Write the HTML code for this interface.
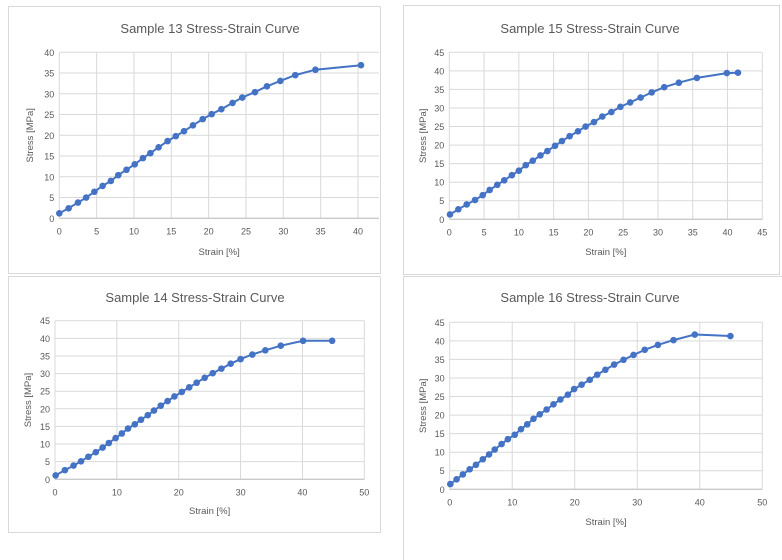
<!DOCTYPE html>
<html><head><meta charset="utf-8"><style>
body{margin:0;background:#fff;width:782px;height:560px;overflow:hidden}
svg{position:absolute;left:0;top:0}
text{font-family:"Liberation Sans",sans-serif;fill:#595959}
</style></head><body>
<svg id="s" width="782" height="560"></svg>
<script>
const categoriesS13X=[0,1.25,2.5,3.6,4.7,5.8,6.9,7.9,9.0,10.1,11.2,12.2,13.3,14.5,15.6,16.7,17.9,19.2,20.4,21.7,23.2,24.5,26.2,27.8,29.6,31.6,34.3,40.4];
const valuesS13Y=[1.2,2.4,3.8,5.0,6.4,7.8,9.0,10.4,11.7,13.0,14.5,15.7,17.1,18.6,19.8,21.0,22.4,23.9,25.1,26.3,27.8,29.1,30.4,31.8,33.1,34.5,35.8,36.9];
const categoriesS15X=[0.1,1.3,2.5,3.7,4.8,5.8,6.9,7.9,9.0,10.0,11.0,12.0,13.1,14.1,15.2,16.2,17.3,18.5,19.6,20.8,22.0,23.3,24.6,26.0,27.5,29.1,30.9,33.0,35.6,39.9,41.5];
const valuesS15Y=[1.3,2.7,4.0,5.2,6.5,7.9,9.3,10.5,11.9,13.1,14.6,15.8,17.2,18.4,19.8,21.1,22.4,23.7,25.0,26.2,27.7,28.9,30.3,31.5,32.8,34.2,35.6,36.8,38.1,39.4,39.5];
const categoriesS14X=[0.1,1.6,3.0,4.2,5.4,6.6,7.7,8.7,9.8,10.8,11.8,12.9,13.9,15.0,16.0,17.1,18.2,19.3,20.5,21.7,22.9,24.2,25.5,26.9,28.4,30.0,31.9,34.0,36.5,40.1,44.8];
const valuesS14Y=[1.1,2.6,3.9,5.1,6.4,7.7,9.0,10.3,11.7,13.0,14.4,15.6,16.9,18.2,19.5,20.9,22.2,23.5,24.8,26.1,27.4,28.8,30.1,31.4,32.8,34.1,35.4,36.6,37.9,39.3,39.3];
const categoriesS16X=[0.1,1.1,2.1,3.2,4.2,5.3,6.3,7.2,8.3,9.3,10.4,11.4,12.4,13.4,14.4,15.5,16.6,17.7,18.9,19.9,21.1,22.4,23.6,24.9,26.3,27.8,29.4,31.2,33.3,35.8,39.2,44.9];
const valuesS16Y=[1.4,2.7,4.0,5.4,6.6,8.1,9.4,10.7,12.2,13.5,14.7,16.2,17.5,19.0,20.2,21.5,22.9,24.2,25.5,27.0,28.2,29.5,30.9,32.2,33.6,34.9,36.2,37.6,38.9,40.2,41.7,41.3];
const ticksX13=[0,5,10,15,20,25,30,35,40];
const ticksY13=[0,5,10,15,20,25,30,35,40];
const ticksX15=[0,5,10,15,20,25,30,35,40,45];
const ticksY45=[0,5,10,15,20,25,30,35,40,45];
const ticksX50=[0,10,20,30,40,50];

const NS='http://www.w3.org/2000/svg';
const svg=document.getElementById('s');
function mk(tag,attrs,parent,txt){const e=document.createElementNS(NS,tag);for(const k in attrs)e.setAttribute(k,attrs[k]);if(txt!==undefined)e.textContent=txt;(parent||svg).appendChild(e);return e;}

function chart(cfg){
  const g=mk('g',{});
  
  
  const p=mk('rect',{x:cfg.box[0]+0.5,y:cfg.box[1]+0.5,width:cfg.box[2],height:cfg.box[3],fill:'#fff',stroke:'#d9d9d9'},g);
  
  
  const sx=v=>cfg.x0+(v-cfg.xmin)/(cfg.xmax-cfg.xmin)*(cfg.x1-cfg.x0);
  const sy=v=>cfg.y0-(v-cfg.ymin)/(cfg.ymax-cfg.ymin)*(cfg.y0-cfg.y1);
  cfg.ty.forEach(t=>{
    const l=mk('line',{x1:cfg.x0,x2:cfg.right,y1:sy(t),y2:sy(t),stroke:'#d9d9d9','stroke-width':1},g);
    
    
    const tx=mk('text',{x:cfg.x0-5,y:sy(t)+3.5,'font-size':9,'text-anchor':'end'},g,t);
    
    
  });
  cfg.tx.forEach(t=>{
    const l=mk('line',{x1:sx(t),x2:sx(t),y1:sy(cfg.ty[cfg.ty.length-1]),y2:cfg.y0,stroke:'#d9d9d9','stroke-width':1},g);
    
    
    const tx=mk('text',{x:sx(t),y:cfg.y0+16,'font-size':9,'text-anchor':'middle'},g,t);
    
    
  });
  const ax=mk('line',{x1:cfg.x0,x2:cfg.right,y1:cfg.y0,y2:cfg.y0,stroke:'#bfbfbf','stroke-width':1},g);
  
  
  const ti=mk('text',{x:cfg.tpos[0],y:cfg.tpos[1],'font-size':13,'text-anchor':'middle'},g,cfg.title);
  
  
  const xt=mk('text',{x:(cfg.x0+cfg.right)/2,y:cfg.xtY,'font-size':9.5,'text-anchor':'middle'},g,'Strain [%]');
  
  
  const cy=(cfg.y0+sy(cfg.ty[cfg.ty.length-1]))/2;
  const yt=mk('text',{x:cfg.ytX,y:cy,'font-size':9.5,'text-anchor':'middle',transform:`rotate(-90 ${cfg.ytX} ${cy})`},g,'Stress [MPa]');
  
  
  const pts=cfg.xs.map((x,i)=>sx(x).toFixed(1)+','+sy(cfg.ys[i]).toFixed(1)).join(' ');
  const pl=mk('polyline',{points:pts,fill:'none',stroke:'#4472c4','stroke-width':2},g);
  
  
  cfg.xs.forEach((x,i)=>{
    const c=mk('circle',{cx:sx(x),cy:sy(cfg.ys[i]),r:3.3,fill:'#4472c4'},g);
    
    
  });
}
chart({name:'sample-13-chart',box:[8,6,372,267],x0:59.3,x1:358,xmin:0,xmax:40,right:379,y0:218.3,y1:52.3,ymin:0,ymax:40,tx:ticksX13,ty:ticksY13,xs:categoriesS13X,ys:valuesS13Y,title:'Sample 13 Stress-Strain Curve',tpos:[210,33],xtY:255,ytX:33});
chart({name:'sample-15-chart',box:[403,5,376,269],x0:449.3,x1:762.3,xmin:0,xmax:45,right:762.3,y0:219.3,y1:52.3,ymin:0,ymax:45,tx:ticksX15,ty:ticksY45,xs:categoriesS15X,ys:valuesS15Y,title:'Sample 15 Stress-Strain Curve',tpos:[590,33],xtY:255,ytX:426});
chart({name:'sample-14-chart',box:[8,276,372,256],x0:55,x1:364.3,xmin:0,xmax:50,right:364.3,y0:479.3,y1:320.7,ymin:0,ymax:45,tx:ticksX50,ty:ticksY45,xs:categoriesS14X,ys:valuesS14Y,title:'Sample 14 Stress-Strain Curve',tpos:[195,302],xtY:514,ytX:31});
chart({name:'sample-16-chart',box:[403,276,380,290],x0:449.7,x1:762.3,xmin:0,xmax:50,right:762.3,y0:489.3,y1:322.3,ymin:0,ymax:45,tx:ticksX50,ty:ticksY45,xs:categoriesS16X,ys:valuesS16Y,title:'Sample 16 Stress-Strain Curve',tpos:[590,302],xtY:525,ytX:426});
</script>
</body></html>
